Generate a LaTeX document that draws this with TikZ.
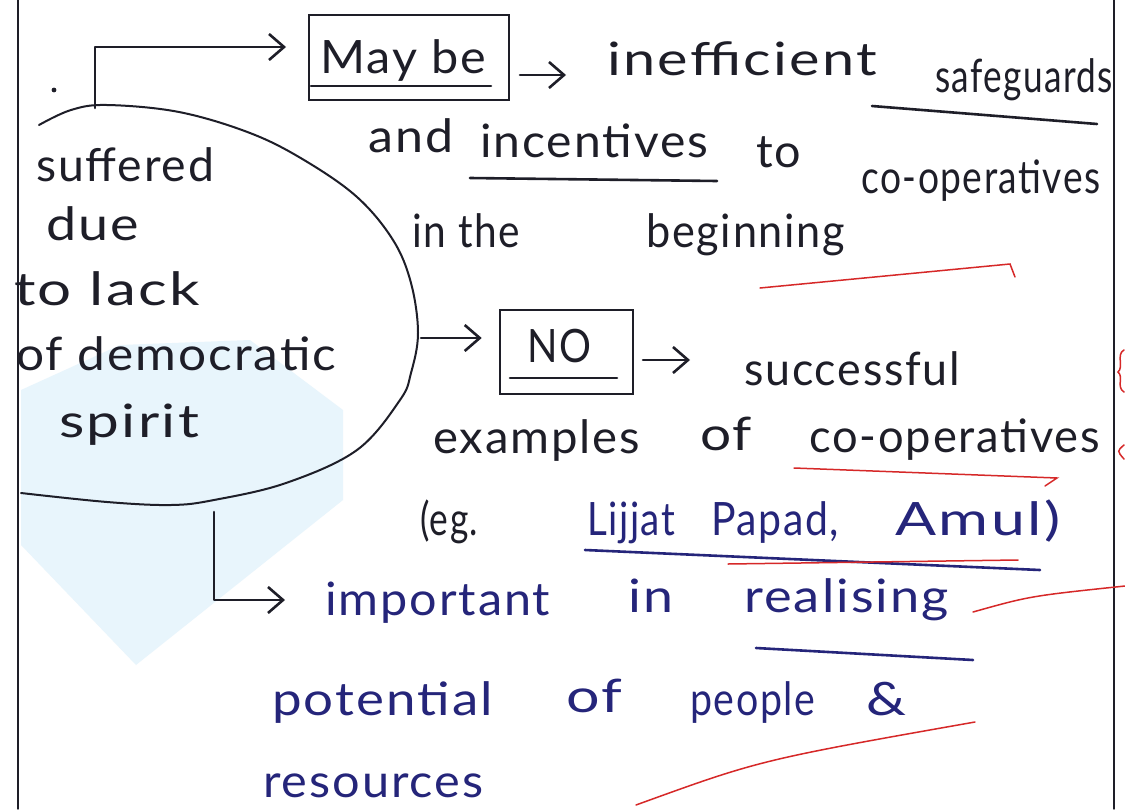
\documentclass[tikz,border=0pt]{standalone}
\usepackage{fontspec}
\setmainfont{Lato}[LetterSpace=4]
\usetikzlibrary{arrows.meta,calc}
\definecolor{ink}{HTML}{1E1E28}
\definecolor{blueink}{HTML}{25257A}
\definecolor{redink}{HTML}{D62828}
\definecolor{wm}{HTML}{E8F5FC}
\newcommand\hw[2]{\resizebox{#1pt}{\height}{#2}}
\begin{document}
\begin{tikzpicture}[x=1pt,y=-1pt,
  word/.style={inner sep=0pt, anchor=base west, font=\fontsize{46}{50}\selectfont, text=ink},
  bword/.style={word, text=blueink},
  pen/.style={draw=ink, line width=2.6pt, line cap=round, line join=round},
  thinpen/.style={draw=ink, line width=2pt, line cap=round, line join=round},
  bpen/.style={pen, draw=blueink},
  rpen/.style={draw=redink, line width=1.5pt, line cap=round},
  arr/.style={pen, -{Straight Barb[length=15pt,width=26pt,line width=2.6pt]}},
  boxed/.style={draw=ink, line width=2.6pt, inner sep=0pt}]
\useasboundingbox (0,0) rectangle (1125,809);
\fill[white] (0,0) rectangle (1125,809);
% faint watermark patch
\fill[wm] (21,390) -- (120,345) -- (250,340) -- (343,410) -- (343,500) -- (136,665) -- (21,545) -- cycle;
% page borders
\draw[thinpen, line width=1.4pt] (18,0) -- (18,809);
\draw[thinpen, line width=1.4pt] (1114,0) -- (1114,809);
% stray dot
\fill[ink] (54,90) circle (2.4pt);
% the oval
\draw[thinpen] plot[smooth, tension=0.6] coordinates {(39,125) (71,110) (107,105) (179,112) (250,133) (304,160) (357,197) (393,240) (411,283) (418,333) (411,373) (400,400) (357,450) (286,483) (214,500) (171,505) (107,502) (21,493)};
\coordinate (etop) at (95,108);
\coordinate (eright) at (421,338);
\coordinate (ebot) at (214,512);
% left text
\node[word] (t1) at (36,181) {\hw{178}{suffered}};
\node[word] (t2) at (46,240) {\hw{93}{due}};
\node[word] (t3) at (14,305) {\hw{186}{to lack}};
\node[word] (t4) at (16,370) {\hw{320}{of democratic}};
\node[word] (t5) at (59,437) {\hw{140}{spirit}};
% May be box
\node[boxed, minimum width=200pt, minimum height=85pt] (maybe) at (409,57.5) {};
\node[word] (mb) at (320,73) {\hw{166}{May be}};
\draw[pen] (311,86) -- (491,86);
\coordinate (a1) at (286,47);
\draw[arr] (etop) |- (a1);
% line 1
\coordinate (a2s) at (520,75);
\coordinate (a2e) at (566,75);
\draw[arr] (a2s) -- (a2e);
\node[word] (w1) at (607,75) {\hw{270}{inefficient}};
\node[word] (w2) at (935,92) {\hw{178}{safeguards}};
\draw[pen] (872,106) -- (1097,124);
% line 2
\node[word] (w3) at (368,152) {\hw{85}{and}};
\node[word] (w4) at (480,157) {\hw{228}{incentives}};
\draw[pen] (470,178) -- (717,181);
\node[word] (w5) at (756,167) {\hw{45}{to}};
\node[word] (w6) at (861,193) {\hw{239}{co-operatives}};
% line 3
\node[word] (w7) at (412,247) {\hw{108}{in the}};
\node[word] (w8) at (646,247) {\hw{199}{beginning}};
\draw[rpen] (760,288) -- (1010,264) -- (1015,277);
% NO box
\node[boxed, minimum width=133pt, minimum height=84pt] (no) at (566.5,352) {};
\node[word] (nt) at (527,362) {\hw{64}{NO}};
\draw[pen] (510,378) -- (617,378);
\draw[arr] (eright) -- ([xshift=-17pt]no.west |- eright);
\coordinate (a3s) at (643,360);
\coordinate (a3e) at (690,360);
\draw[arr] (a3s) -- (a3e);
\node[word] (w9) at (744,385) {\hw{216}{successful}};
% examples line
\node[word] (w10) at (433,453) {\hw{207}{examples}};
\node[word] (w11) at (700,450) {\hw{52}{of}};
\node[word] (w12) at (809,452) {\hw{291}{co-operatives}};
\draw[rpen] (794,468) -- (1057,478) -- (1045,486);
% eg line
\node[word] (w13) at (420,535) {\hw{58}{(eg.}};
\node[bword] (w14) at (587,535) {\hw{88}{Lijjat}};
\node[bword] (w15) at (711,535) {\hw{128}{Papad,}};
\node[bword] (w16) at (895,535) {\hw{165}{Amul)}};
\draw[bpen] (585,550) -- (1040,570);
\draw[rpen] (728,564) -- (1018,560);
% L arrow
\coordinate (a4e) at (285,600);
\draw[arr] (ebot) |- (a4e);
\node[bword] (w17) at (325,615) {\hw{225}{important}};
\node[bword] (w18) at (628,612) {\hw{45}{in}};
\node[bword] (w19) at (744,612) {\hw{205}{realising}};
\draw[bpen] (756,648) -- (973,660);
\draw[rpen] (973,612) .. controls (1030,596) .. (1125,586);
% potential line
\node[bword] (w20) at (272,715) {\hw{221}{potential}};
\node[bword] (w21) at (566,712) {\hw{56}{of}};
\node[bword] (w22) at (690,715) {\hw{125}{people}};
\node[bword] (w23) at (866,715) {\hw{40}{\&}};
\draw[rpen] (636,805) .. controls (760,760) .. (975,722);
% resources
\node[bword] (w24) at (263,797) {\hw{220}{resources}};
% red marks at right edge
\draw[rpen] (1124,350) .. controls (1116,354) and (1124,367) .. (1118,372) .. controls (1124,377) and (1116,387) .. (1124,392);
\draw[rpen] (1124,445) .. controls (1117,451) .. (1124,459);
\end{tikzpicture}
\end{document}
